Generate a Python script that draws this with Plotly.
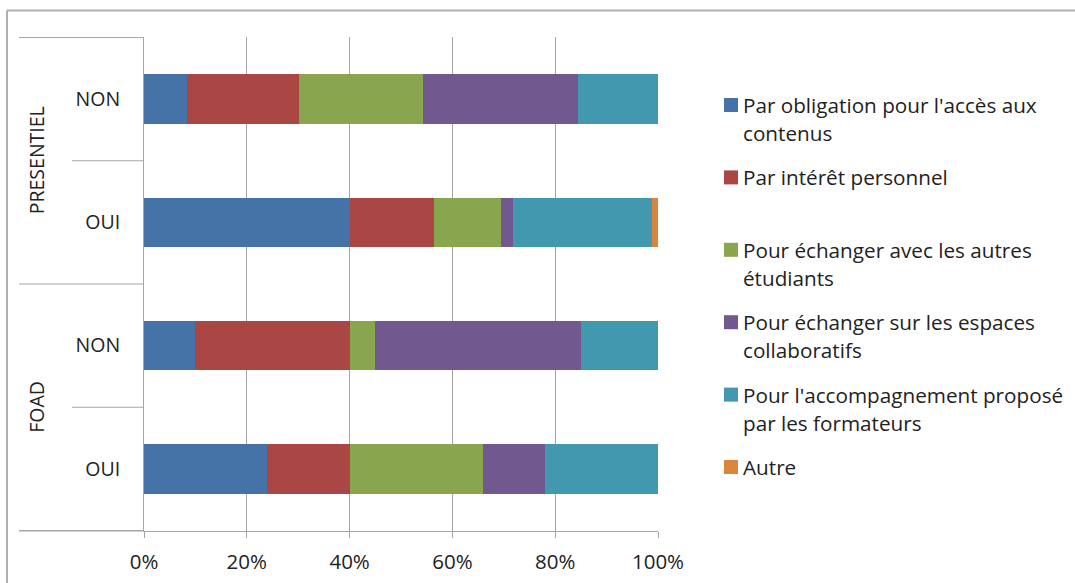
import textwrap
import plotly.graph_objects as go

# Survey data: share of answers (%) per reason, for each group / sub-group
groups = ["PRESENTIEL", "PRESENTIEL", "FOAD", "FOAD"]
subgroups = ["NON", "OUI", "NON", "OUI"]

series_names = [
    "Par obligation pour l'accès aux contenus",
    "Par intérêt personnel",
    "Pour échanger avec les autres étudiants",
    "Pour échanger sur les espaces collaboratifs",
    "Pour l'accompagnement proposé par les formateurs",
    "Autre",
]
obligation = [8.3, 40.0, 10.0, 24.0]
interet = [21.9, 16.5, 30.0, 16.0]
echange_etudiants = [24.0, 12.9, 5.0, 26.0]
espaces_collab = [30.2, 2.4, 40.0, 12.0]
accompagnement = [15.6, 27.1, 15.0, 22.0]
autre = [0.0, 1.1, 0.0, 0.0]

x_ticks = [0, 20, 40, 60, 80, 100]
x_tick_labels = ["0%", "20%", "40%", "60%", "80%", "100%"]

colors = ["#4572A7", "#AA4643", "#89A54E", "#71588F", "#4198AF", "#DB843D"]
series_values = [obligation, interet, echange_etudiants, espaces_collab,
                 accompagnement, autre]

FONT = "Open Sans"
TEXT = "#222222"
GRID = "#a6a6a6"

W, H = 1075, 583
L, R, T, B = 144, 417, 37, 52
PW, PH = W - L - R, H - T - B


def px_x(px):
    return (px - L) / PW


def px_y(py):
    return (H - B - py) / PH


keys = [f"{g}|{s}" for g, s in zip(groups, subgroups)]

fig = go.Figure()
for name, vals, col in zip(series_names, series_values, colors):
    fig.add_trace(go.Bar(
        y=keys, x=vals, name=name, orientation="h",
        marker=dict(color=col, line=dict(width=0)),
        showlegend=False,
    ))

shapes = []
annotations = []

# Category axis dividers (group boundaries long, sub-group boundaries short)
n = len(keys)
for i in range(n + 1):
    pos = i - 0.5
    if i == 0 or i == n or groups[i - 1] != groups[i]:
        x0 = px_x(19)
    else:
        x0 = px_x(72)
    shapes.append(dict(type="line", xref="paper", yref="y", x0=x0, x1=0,
                       y0=pos, y1=pos, line=dict(color=GRID, width=1)))

# Bottom axis extends under the category labels
shapes.append(dict(type="line", xref="paper", yref="paper", x0=px_x(19), x1=0,
                   y0=0, y1=0, line=dict(color=GRID, width=1)))

# Group labels, rotated
seen = []
for g in groups:
    if g not in seen:
        seen.append(g)
for g in seen:
    idx = [i for i, gg in enumerate(groups) if gg == g]
    annotations.append(dict(
        text=g, xref="paper", yref="y", x=px_x(36.5),
        y=(idx[0] + idx[-1]) / 2, textangle=-90, showarrow=False,
        xanchor="center", yanchor="middle",
        font=dict(family=FONT, size=19.5, color=TEXT)))

# Legend drawn at the right of the plot
item_y0, item_step, line_step = 105, 72.4, 28
for i, (name, col) in enumerate(zip(series_names, colors)):
    yc = item_y0 + i * item_step
    shapes.append(dict(type="rect", xref="paper", yref="paper",
                       x0=px_x(724), x1=px_x(738),
                       y0=px_y(yc - 7), y1=px_y(yc + 7),
                       fillcolor=col, line=dict(width=0)))
    for j, line in enumerate(textwrap.wrap(name, 31)):
        annotations.append(dict(
            text=line, xref="paper", yref="paper",
            x=px_x(741), y=px_y(yc + j * line_step),
            showarrow=False, xanchor="left", yanchor="middle",
            font=dict(family=FONT, size=20.7, color=TEXT)))

# Outer chart frame (top and left edges)
shapes.append(dict(type="line", xref="paper", yref="paper",
                   x0=px_x(7), x1=px_x(W + 5), y0=px_y(10.5), y1=px_y(10.5),
                   line=dict(color="#b0b0b0", width=2)))
shapes.append(dict(type="line", xref="paper", yref="paper",
                   x0=px_x(7), x1=px_x(7), y0=px_y(10.5), y1=px_y(H + 5),
                   line=dict(color="#b0b0b0", width=2)))

fig.update_layout(
    width=W, height=H,
    margin=dict(l=L, r=R, t=T, b=B, pad=0, autoexpand=False),
    barmode="stack", bargap=0.6,
    paper_bgcolor="white", plot_bgcolor="white",
    font=dict(family=FONT, size=19, color=TEXT),
    xaxis=dict(range=[0, 100], tickvals=x_ticks, ticktext=x_tick_labels,
               automargin=False,
               showgrid=True, gridcolor=GRID, gridwidth=1,
               showline=True, linecolor=GRID, linewidth=1,
               ticks="outside", ticklen=6, tickcolor=GRID,
               ticklabelstandoff=6, zeroline=False,
               tickfont=dict(family=FONT, size=20.5, color=TEXT)),
    yaxis=dict(tickvals=keys, ticktext=subgroups, autorange="reversed",
               automargin=False,
               showgrid=False, showline=True, linecolor=GRID, linewidth=1,
               ticks="", ticklabelstandoff=19, zeroline=False,
               tickfont=dict(family=FONT, size=19.5, color=TEXT)),
    shapes=shapes, annotations=annotations,
)

fig.write_html("out.html")
